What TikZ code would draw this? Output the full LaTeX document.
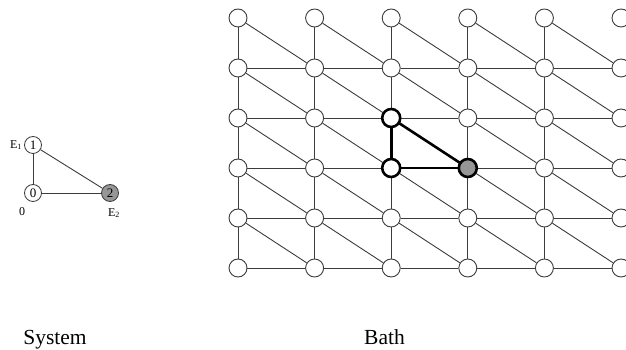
\documentclass[tikz,border=0pt]{standalone}
\usepackage{fontspec}
\setmainfont{Liberation Serif}
\usepackage{tikz}
\usetikzlibrary{positioning}
\definecolor{linegray}{RGB}{60, 60, 60}
\definecolor{sitegray}{RGB}{150, 150, 150}
\tikzstyle{site} = [circle, draw=linegray, fill=white, line width=0.9pt, minimum size=18pt, inner sep=0pt]
\tikzstyle{hotsite} = [site, draw=black, line width=2.6pt]
\tikzstyle{level} = [circle, draw=linegray, fill=white, line width=0.8pt, minimum size=17pt, inner sep=0pt, font=\fontsize{13}{13}\selectfont]
\tikzstyle{bond} = [draw=linegray, line width=0.9pt]
\tikzstyle{hotbond} = [draw=black, line width=2.6pt]
\tikzstyle{tag} = [font=\fontsize{12}{12}\selectfont, inner sep=1pt]
\tikzstyle{caption} = [font=\fontsize{21.5}{24}\selectfont, anchor=base]

\begin{document}
\begin{tikzpicture}[x=1pt, y=1pt]
    \useasboundingbox (0, 0) rectangle (626, 350);

    % System levels
    \node[level] (s1) at (33, 205) {1};
    \node[level] (s0) at (33, 157) {0};
    \node[level, fill=sitegray] (s2) at (110, 157) {2};
    \draw[bond] (s1) -- (s0);
    \draw[bond] (s0) -- (s2);
    \draw[bond] (s1) -- (s2);

    % Energies
    \node[tag] (e1) [left=1pt of s1] {E\textsubscript{1}};
    \node[tag] (e0) at (22, 138) {0};
    \node[tag] (e2) at (114, 137) {E\textsubscript{2}};

    % Bath sites
    \foreach \i in {0,...,5}
        \foreach \j in {0,...,5}
            \node[site] (b-\i-\j) at ({238+76.6*\i}, {332-50*\j}) {};

    % Bonds: rows, columns, diagonals
    \foreach \j in {1,...,5}
        \foreach \i/\ii in {0/1, 1/2, 2/3, 3/4, 4/5}
            \draw[bond] (b-\i-\j) -- (b-\ii-\j);
    \foreach \i in {0,...,4}
        \foreach \j/\jj in {0/1, 1/2, 2/3, 3/4, 4/5}
            \draw[bond] (b-\i-\j) -- (b-\i-\jj);
    \foreach \i/\ii in {0/1, 1/2, 2/3, 3/4, 4/5}
        \foreach \j/\jj in {0/1, 1/2, 2/3, 3/4, 4/5}
            \draw[bond] (b-\i-\j) -- (b-\ii-\jj);

    % Copy of the system inside the bath
    \draw[hotbond] (b-2-2) -- (b-2-3);
    \draw[hotbond] (b-2-3) -- (b-3-3);
    \draw[hotbond] (b-2-2) -- (b-3-3);
    \node[hotsite] at (b-2-2) {};
    \node[hotsite] at (b-2-3) {};
    \node[hotsite, fill=sitegray] at (b-3-3) {};

    % Captions
    \node[caption] (sys) at (55, 5) {System};
    \node[caption] (bath) at (384.5, 5) {Bath};
\end{tikzpicture}
\end{document}
